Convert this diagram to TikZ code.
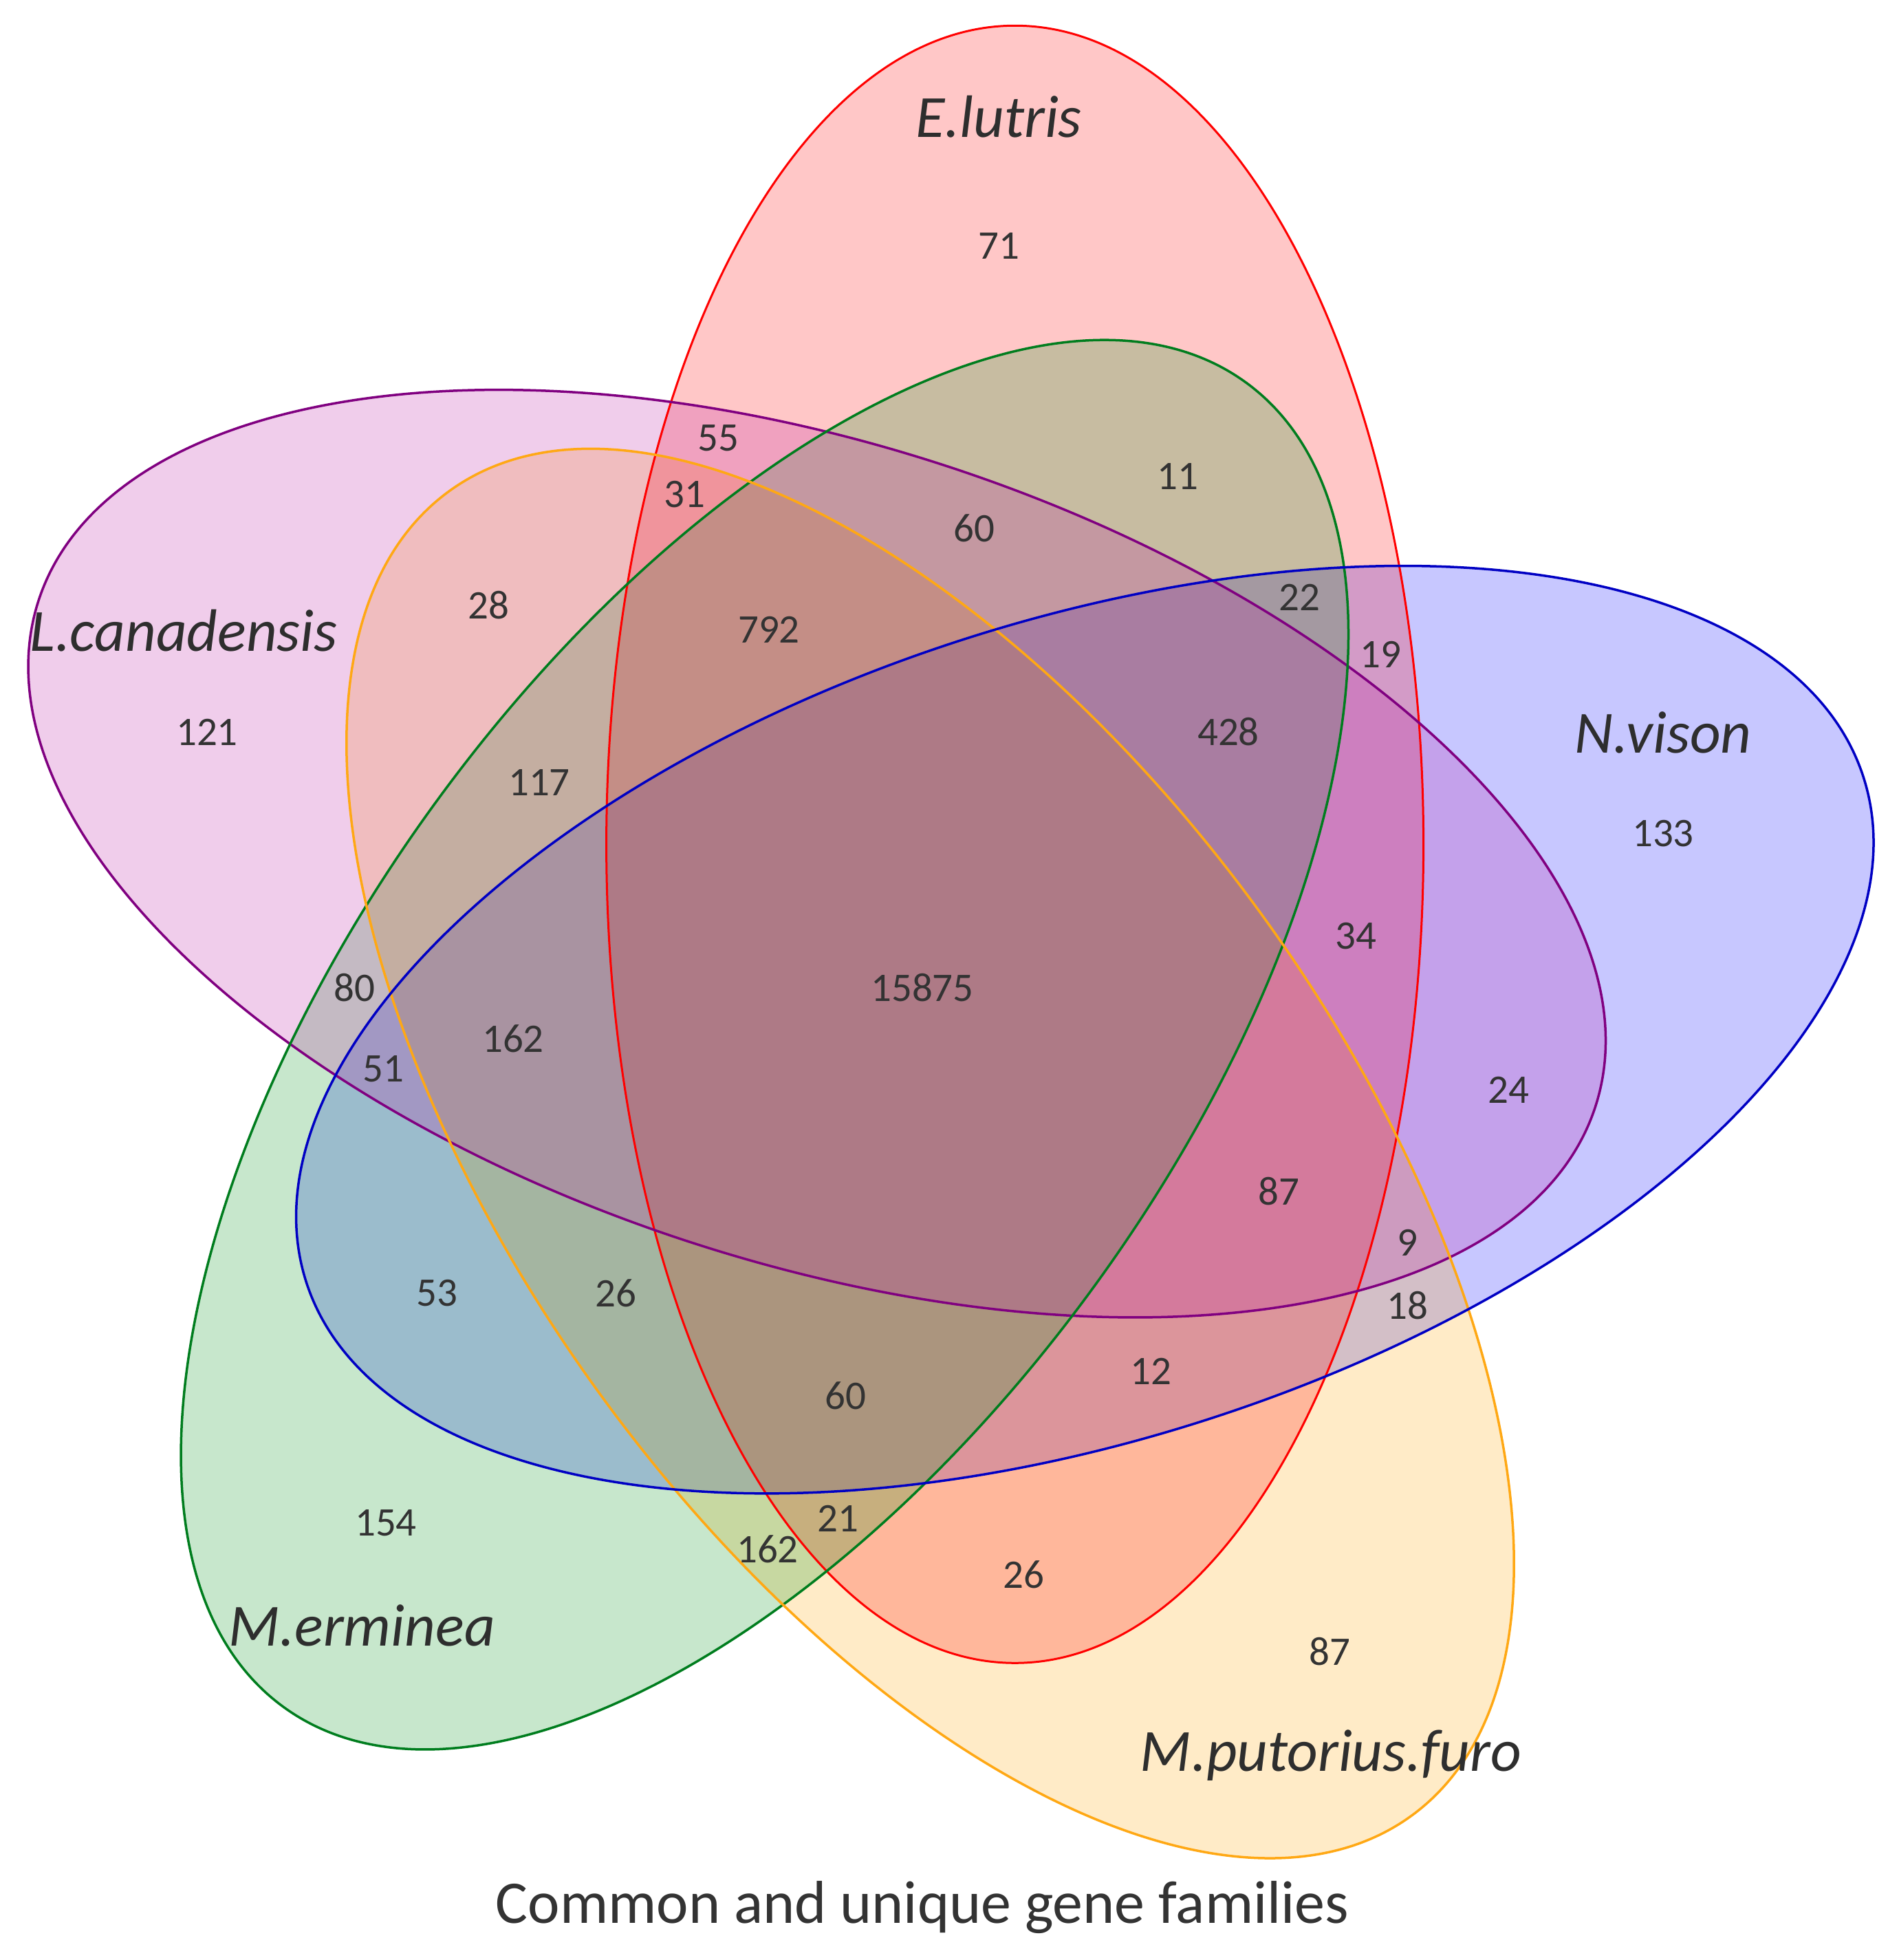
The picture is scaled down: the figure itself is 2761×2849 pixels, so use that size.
\documentclass[tikz,border=0pt]{standalone}
\usepackage{fontspec}
\setmainfont{Carlito}
\begin{document}
\begin{tikzpicture}[x=1pt,y=1pt,
  num/.style={font=\fontsize{59}{60}\selectfont, text=black!80, inner sep=0pt},
  lab/.style={font=\fontsize{87}{90}\selectfont\itshape, text=black!82, inner sep=0pt},
  captext/.style={font=\fontsize{88}{92}\selectfont, text=black!80, inner sep=0pt},
  setfill/.style={fill=#1, fill opacity=0.22},
  setline/.style={draw=#1, line width=3.5pt}]
\definecolor{cRed}{RGB}{255,0,0}
\definecolor{cPur}{RGB}{187,28,164}
\definecolor{cPurL}{RGB}{128,0,128}
\definecolor{cGrn}{RGB}{0,150,27}
\definecolor{cGrnL}{RGB}{0,125,30}
\definecolor{cOra}{RGB}{255,165,0}
\definecolor{cOraL}{RGB}{255,168,20}
\definecolor{cBlu}{RGB}{0,0,255}
\definecolor{cBluL}{RGB}{0,0,195}
\useasboundingbox (0,0) rectangle (2761,2849);
\fill[white] (0,0) rectangle (2761,2849);
% fills (bottom to top: blue, orange, red, green, purple)
\path[setfill=cBlu, rotate around={18:(1577.3,1352.3)}] (1577.3,1352.3) ellipse [x radius=1190, y radius=594];
\path[setfill=cOra, rotate around={306:(1352.5,1172.3)}] (1352.5,1172.3) ellipse [x radius=1190, y radius=594];
\path[setfill=cRed, rotate around={90:(1475.6,1621.7)}] (1475.6,1621.7) ellipse [x radius=1190, y radius=594];
\path[setfill=cGrn, rotate around={234:(1111.8,1330.4)}] (1111.8,1330.4) ellipse [x radius=1190, y radius=594];
\path[setfill=cPur, rotate around={162:(1187.8,1608.2)}] (1187.8,1608.2) ellipse [x radius=1190, y radius=594];
% outlines
\path[setline=cRed, line width=3pt, rotate around={90:(1475.6,1621.7)}] (1475.6,1621.7) ellipse [x radius=1190, y radius=594];
\path[setline=cPurL, rotate around={162:(1187.8,1608.2)}] (1187.8,1608.2) ellipse [x radius=1190, y radius=594];
\path[setline=cGrnL, rotate around={234:(1111.8,1330.4)}] (1111.8,1330.4) ellipse [x radius=1190, y radius=594];
\path[setline=cOraL, rotate around={306:(1352.5,1172.3)}] (1352.5,1172.3) ellipse [x radius=1190, y radius=594];
\path[setline=cBluL, rotate around={18:(1577.3,1352.3)}] (1577.3,1352.3) ellipse [x radius=1190, y radius=594];
% set labels
\node[lab] (lE) at (1452,2679) {E.lutris};
\node[lab] (lL) at (267,1932) {L.canadensis};
\node[lab] (lN) at (2418,1784) {N.vison};
\node[lab] (lM) at (526,486) {M.erminea};
\node[lab] (lP) at (1935,297) {M.putorius.furo};
% counts
\node[num] (n71) at (1452,2491) {71};
\node[num] (n55) at (1044,2212) {55};
\node[num] (n31) at (995,2130) {31};
\node[num] (n11) at (1712,2156) {11};
\node[num] (n60a) at (1416,2081) {60};
\node[num] (n28) at (710,1969) {28};
\node[num] (n792) at (1118,1934) {792};
\node[num] (n22) at (1889,1981) {22};
\node[num] (n19) at (2007,1898) {19};
\node[num] (n121) at (301,1785) {121};
\node[num] (n428) at (1786,1785) {428};
\node[num] (n133) at (2418,1637) {133};
\node[num] (n117) at (784,1711) {117};
\node[num] (n34) at (1971,1488) {34};
\node[num] (n80) at (515,1413) {80};
\node[num] (n15875) at (1341,1413) {15875};
\node[num] (n162a) at (746,1339) {162};
\node[num] (n51) at (557,1295) {51};
\node[num] (n24) at (2193,1265) {24};
\node[num] (n87a) at (1859,1117) {87};
\node[num] (n9) at (2046,1043) {9};
\node[num] (n18) at (2046,951) {18};
\node[num] (n53) at (635,969) {53};
\node[num] (n26a) at (895,969) {26};
\node[num] (n12) at (1673,856) {12};
\node[num] (n60b) at (1229,820) {60};
\node[num] (n154) at (561,635) {154};
\node[num] (n21) at (1218,642) {21};
\node[num] (n162b) at (1116,597) {162};
\node[num] (n26b) at (1488,560) {26};
\node[num] (n87b) at (1933,448) {87};
% caption
\node[captext] (caption) at (1341,76) {Common and unique gene families};
\end{tikzpicture}
\end{document}
